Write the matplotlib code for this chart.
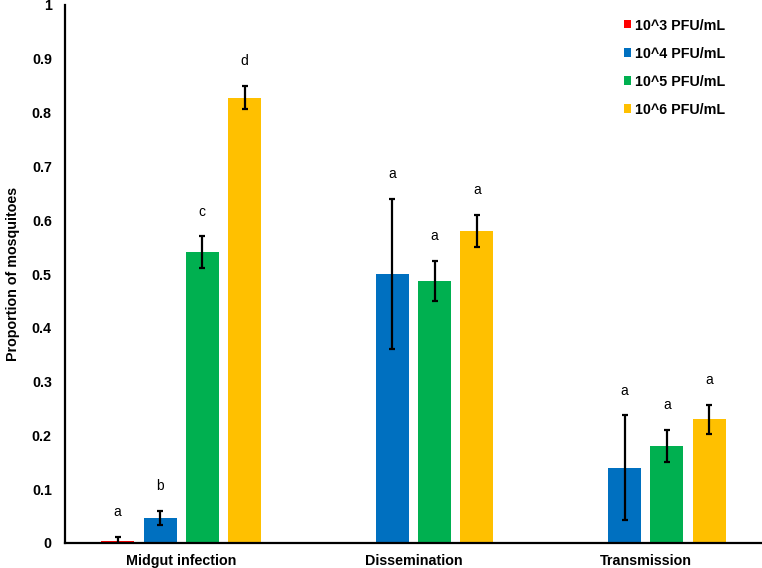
import numpy as np
import matplotlib
matplotlib.use("Agg")
import matplotlib.pyplot as plt
from matplotlib.patches import Patch

plt.rcParams['font.family'] = ['Liberation Sans', 'DejaVu Sans']

# --- data ---
categories = ["Midgut infection", "Dissemination", "Transmission"]
doses = ["10^3 PFU/mL", "10^4 PFU/mL", "10^5 PFU/mL", "10^6 PFU/mL"]
colors = ["#FF0000", "#0070C0", "#00B050", "#FFC000"]

# proportions per dose (rows) and category (columns); nan = no bar
p_1e3 = [0.004, np.nan, np.nan]
p_1e4 = [0.047, 0.500, 0.140]
p_1e5 = [0.541, 0.487, 0.180]
p_1e6 = [0.828, 0.580, 0.230]

e_1e3 = [0.007, np.nan, np.nan]
e_1e4 = [0.013, 0.139, 0.097]
e_1e5 = [0.029, 0.038, 0.030]
e_1e6 = [0.022, 0.030, 0.027]

# significance letters
l_1e3 = ["a", "", ""]
l_1e4 = ["b", "a", "a"]
l_1e5 = ["c", "a", "a"]
l_1e6 = ["d", "a", "a"]

values = [p_1e3, p_1e4, p_1e5, p_1e6]
errors = [e_1e3, e_1e4, e_1e5, e_1e6]
letters = [l_1e3, l_1e4, l_1e5, l_1e6]

FS = 10.3

fig = plt.figure(figsize=(7.62, 5.68), dpi=100)
ax = fig.add_axes([65 / 762, 25 / 568, 697 / 762, 538 / 568])

x = np.arange(len(categories))
step = 0.182
width = 0.142

for i in range(len(doses)):
    xs = x + (i - 1.5) * step
    v = np.array(values[i], dtype=float)
    e = np.array(errors[i], dtype=float)
    ok = ~np.isnan(v)
    ax.bar(xs[ok], v[ok], width=width, color=colors[i], zorder=2)
    ax.errorbar(xs[ok], v[ok], yerr=e[ok], fmt='none', ecolor='black',
                elinewidth=1.6, capsize=2.5, capthick=1.6, zorder=3)
    for xi, vi, ei, lab in zip(xs[ok], v[ok], e[ok], np.array(letters[i])[ok]):
        if lab:
            ax.text(xi, vi + ei + 0.046, lab, ha='center', va='center',
                    fontsize=10)

ax.set_xlim(-0.5, 2.5)
ax.set_ylim(0, 1)
ax.set_yticks(np.arange(0, 1.01, 0.1))
ax.set_yticklabels(["0", "0.1", "0.2", "0.3", "0.4", "0.5", "0.6", "0.7",
                    "0.8", "0.9", "1"])
ax.set_xticks(x)
ax.set_xticklabels(categories)
ax.tick_params(axis='both', length=0, labelsize=FS)
ax.tick_params(axis='y', pad=9.5)
ax.tick_params(axis='x', pad=8)
for t in ax.get_xticklabels() + ax.get_yticklabels():
    t.set_fontweight('bold')

ax.spines['top'].set_visible(False)
ax.spines['right'].set_visible(False)
ax.spines['left'].set_linewidth(1.6)
ax.spines['bottom'].set_linewidth(1.6)

ax.set_ylabel("Proportion of mosquitoes", fontsize=FS, fontweight='bold',
              labelpad=8.5)

handles = [Patch(facecolor=c, edgecolor='none') for c in colors]
leg = ax.legend(handles, doses, loc='upper left',
                bbox_to_anchor=(624 / 762, 1 - 18.5 / 568),
                bbox_transform=fig.transFigure, frameon=False,
                prop={'weight': 'bold', 'size': FS},
                handlelength=0.5, handleheight=0.5, handletextpad=0.25,
                labelspacing=0.98, borderaxespad=0, borderpad=0)

fig.savefig("out.png", dpi=100)
